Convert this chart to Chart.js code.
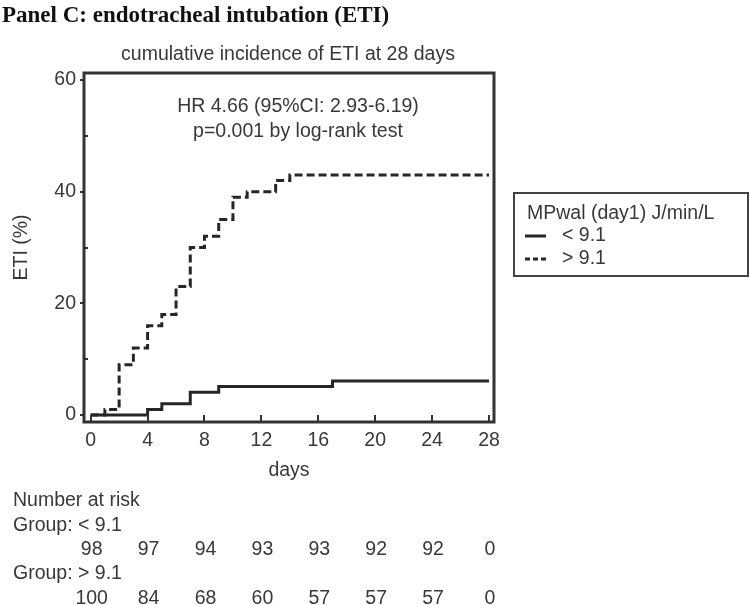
<!DOCTYPE html>
<html><head><meta charset="utf-8">
<script src="https://cdn.jsdelivr.net/npm/chart.js@4/dist/chart.umd.min.js"></script>
<style>html,body{margin:0;padding:0;background:#fff;}#wrap{position:relative;width:750px;height:605px;}</style>
</head><body><div id="wrap"><canvas id="c" width="750" height="605"></canvas></div>
<script>
const panelTitle = 'Panel C: endotracheal intubation (ETI)';
const chartSubtitle = 'cumulative incidence of ETI at 28 days';
const annotationLines = ['HR 4.66 (95%CI: 2.93-6.19)', 'p=0.001 by log-rank test'];
const legendTitle = 'MPwal (day1) J/min/L';
const groupLabels = ['< 9.1', '> 9.1'];
const lowDays = [0, 4, 5, 7, 9, 17, 28];
const lowETI  = [0, 1.0, 2.0, 4.1, 5.1, 6.1, 6.1];
const highDays = [0, 1, 2, 3, 4, 5, 6, 7, 8, 9, 10, 11, 13, 14, 28];
const highETI  = [0, 1, 9, 12, 16, 18, 23, 30, 32, 35, 39, 40, 42, 43, 43];
const xTicks = [0, 4, 8, 12, 16, 20, 24, 28];
const yTicks = [0, 20, 40, 60];
const yMinorTicks = [10, 30, 50];
const riskDays = [0, 4, 8, 12, 16, 20, 24, 28];
const riskLow  = [98, 97, 94, 93, 93, 92, 92, 0];
const riskHigh = [100, 84, 68, 60, 57, 57, 57, 0];

const TXT = '#383838';
const LINE = '#262626';
const SANS = "'Liberation Sans', Arial, sans-serif";
const FS = 19.5;

const toPts = (xs, ys) => xs.map((x, i) => ({x: x, y: ys[i]}));

const decor = {
  id: 'decor',
  afterDatasetsDraw(chart) {
    const ctx = chart.ctx, a = chart.chartArea;
    const xs = chart.scales.x, ys = chart.scales.y;
    ctx.save();
    // frame
    ctx.strokeStyle = '#333';
    ctx.lineWidth = 3;
    ctx.strokeRect(a.left, a.top, a.right - a.left, a.bottom - a.top);
    // inward x ticks
    ctx.lineWidth = 2;
    xTicks.forEach(v => {
      const px = Math.round(xs.getPixelForValue(v));
      ctx.beginPath(); ctx.moveTo(px, a.bottom); ctx.lineTo(px, a.bottom - 7); ctx.stroke();
    });
    // inward minor y ticks
    yMinorTicks.forEach(v => {
      const py = Math.round(ys.getPixelForValue(v));
      ctx.beginPath(); ctx.moveTo(a.left, py); ctx.lineTo(a.left + 4, py); ctx.stroke();
    });
    // annotation
    ctx.fillStyle = TXT;
    ctx.font = FS + 'px ' + SANS;
    ctx.textAlign = 'center';
    ctx.textBaseline = 'middle';
    const cx = (a.left + a.right) / 2 + 9;
    annotationLines.forEach((t, i) => ctx.fillText(t, cx, 107 + i * 25));
    // subtitle
    ctx.fillText(chartSubtitle, (a.left + a.right) / 2 - 1, 55);
    // panel title
    ctx.fillStyle = '#111';
    ctx.font = "bold 23px 'Liberation Serif', 'Times New Roman', serif";
    ctx.textAlign = 'left';
    ctx.fillText(panelTitle, 2, 16);
    // legend box
    const bx = a.right + 20, by = 193, bw = 234, bh = 83;
    ctx.strokeStyle = '#444';
    ctx.lineWidth = 2;
    ctx.strokeRect(bx, by, bw, bh);
    ctx.fillStyle = TXT;
    ctx.font = FS + 'px ' + SANS;
    ctx.fillText(legendTitle, bx + 13, by + 21);
    chart.data.datasets.forEach((ds, i) => {
      const ry = by + 43 + i * 23;
      ctx.save();
      ctx.strokeStyle = ds.borderColor;
      ctx.lineWidth = 3;
      ctx.setLineDash(i === 0 ? [] : [5, 3]);
      ctx.beginPath(); ctx.moveTo(bx + 11, ry); ctx.lineTo(bx + 32, ry); ctx.stroke();
      ctx.restore();
      ctx.fillText(ds.label, bx + 48, ry);
    });
    // number at risk table
    const rowY = 501, step = 24.3;
    ctx.fillText('Number at risk', 13, rowY);
    ctx.fillText('Group: ' + groupLabels[0], 13, rowY + step);
    ctx.fillText('Group: ' + groupLabels[1], 13, rowY + step * 3);
    ctx.textAlign = 'center';
    riskDays.forEach((d, i) => {
      const px = xs.getPixelForValue(d);
      ctx.fillText(String(riskLow[i]), px + 1, rowY + step * 2);
      ctx.fillText(String(riskHigh[i]), px + 1, rowY + step * 4);
    });
    ctx.restore();
  }
};

new Chart(document.getElementById('c'), {
  type: 'scatter',
  data: {
    datasets: [
      {label: groupLabels[0], data: toPts(lowDays, lowETI), showLine: true, stepped: true,
       borderColor: LINE, borderWidth: 3, pointRadius: 0, fill: false},
      {label: groupLabels[1], data: toPts(highDays, highETI), showLine: true, stepped: true,
       borderColor: LINE, borderWidth: 3, borderDash: [8, 4], pointRadius: 0, fill: false}
    ]
  },
  options: {
    responsive: false, animation: false, devicePixelRatio: 1,
    layout: {padding: {left: 0, top: 73, right: 256, bottom: 0}},
    plugins: {legend: {display: false}, tooltip: {enabled: false}},
    scales: {
      x: {
        type: 'linear', min: -0.47, max: 28.35,
        afterBuildTicks: s => { s.ticks = xTicks.map(v => ({value: v})); },
        afterFit: s => { s.height = 183; },
        grid: {drawOnChartArea: false, drawTicks: false},
        border: {display: false},
        ticks: {color: TXT, font: {family: SANS, size: FS}, padding: 7, maxRotation: 0, autoSkip: false},
        title: {display: true, text: 'days', color: TXT, font: {family: SANS, size: FS}, padding: {top: 0, bottom: 123}}
      },
      y: {
        type: 'linear', min: -1.25, max: 61.25,
        afterBuildTicks: s => { s.ticks = yTicks.map(v => ({value: v})); },
        afterFit: s => { s.width = 84; },
        grid: {drawOnChartArea: false, drawTicks: true, tickLength: 4, color: '#333', lineWidth: 2},
        border: {display: false},
        ticks: {color: TXT, font: {family: SANS, size: FS}, padding: 4, autoSkip: false},
        title: {display: true, text: 'ETI (%)', color: TXT, font: {family: SANS, size: FS}, padding: {top: 10, bottom: 0}}
      }
    }
  },
  plugins: [decor]
});
</script></body></html>
